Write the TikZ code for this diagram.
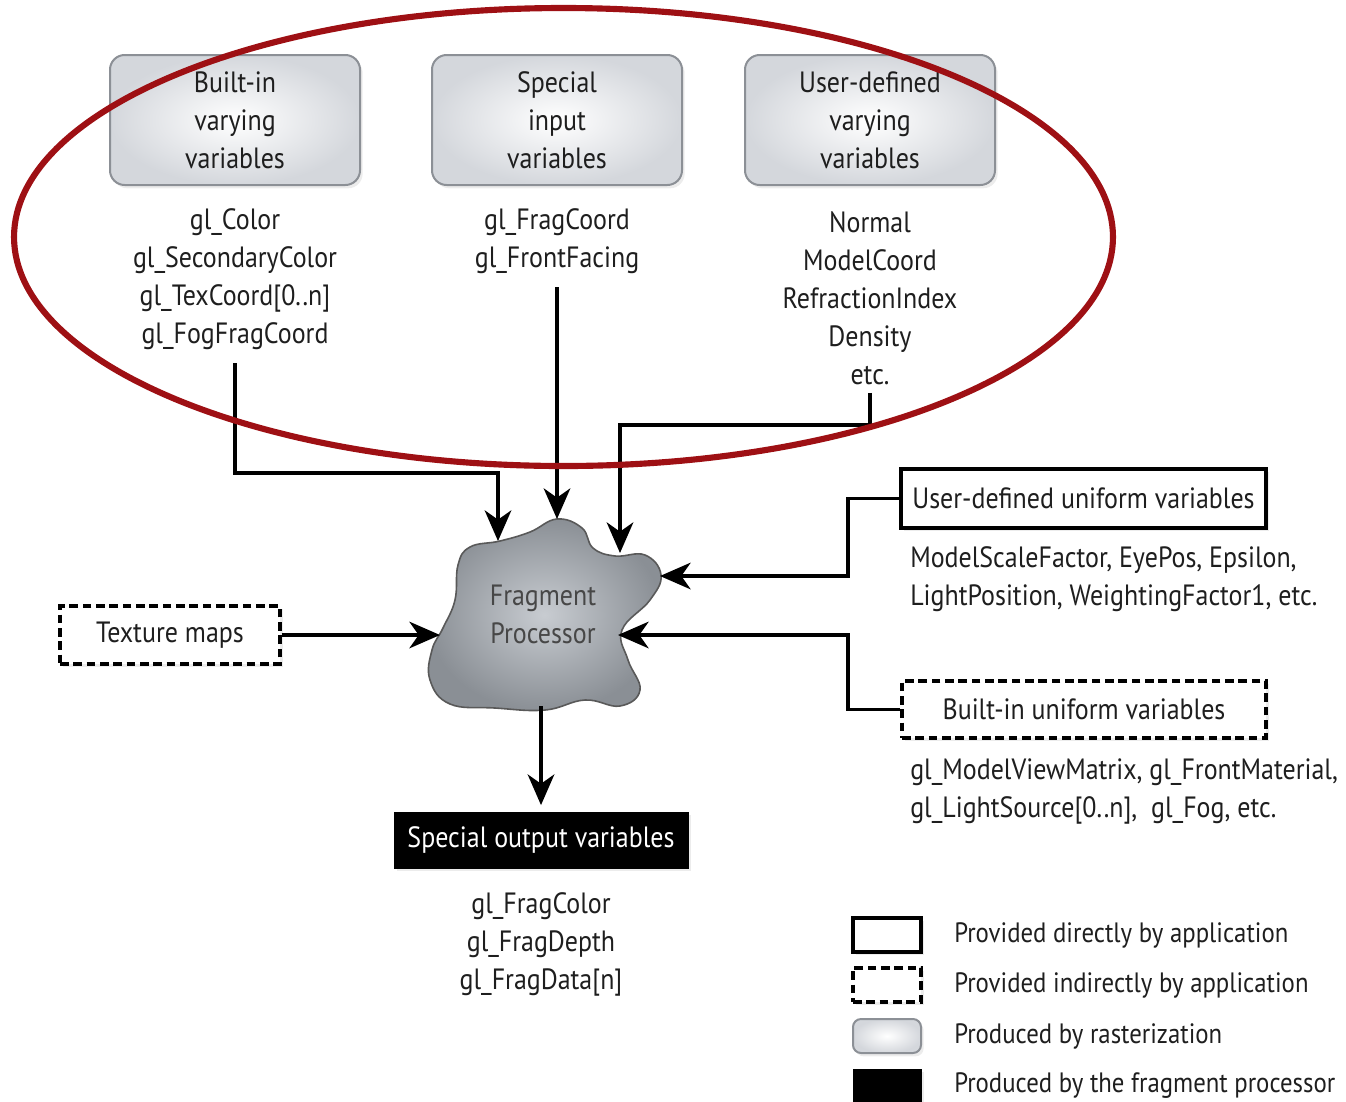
\documentclass[tikz,border=0pt]{standalone}
\usepackage{fontspec}
\setmainfont{PT Sans}[FakeStretch=0.885]
\usetikzlibrary{arrows.meta,shadows}
\definecolor{ringred}{HTML}{9E1014}
\definecolor{inkgray}{HTML}{1E1E1E}
\definecolor{boxedge}{HTML}{8C9096}
\definecolor{boxglow}{HTML}{D4D7DC}
\definecolor{cloudin}{HTML}{C8CCD1}
\definecolor{cloudout}{HTML}{8A8F95}

\begin{document}
\begin{tikzpicture}[x=0.75pt,y=-0.75pt,
  font=\fontsize{22}{28.5}\selectfont, text=inkgray,
  conn/.style={line width=2.3pt, draw=black},
  tip/.style={-{Stealth[length=23pt,width=20pt,inset=7pt]}},
  shadowed/.style={drop shadow={opacity=0.15,shadow xshift=2pt,shadow yshift=-2.5pt}},
  rasterbox/.style={draw=boxedge, line width=1.5pt, rounded corners=11pt,
    shading=radial, inner color=white, outer color=boxglow,
    minimum width=187.5pt, minimum height=97.5pt, align=center, shadowed},
  directbox/.style={draw=black, fill=white, line width=2.3pt, align=center, shadowed},
  indirectbox/.style={draw=black, fill=white, line width=2.3pt, dash pattern=on 6.5pt off 3.5pt, align=center, shadowed},
  outbox/.style={draw=black, fill=black, text=white, align=center, shadowed},
  listtext/.style={align=center, inner sep=0pt},
  sidetext/.style={align=left, anchor=west, inner sep=0pt},
  legendtext/.style={sidetext, font=\fontsize{21}{28.5}\selectfont},
  cloudshape/.style={draw=black!65, line width=1.2pt, shading=radial, inner color=cloudin, outer color=cloudout}
]
\useasboundingbox (0,0) rectangle (1346,1101);

% rasterized varying inputs
\node[rasterbox] (bv) at (235,120) {Built-in\\varying\\variables};
\node[rasterbox] (si) at (557,120) {Special\\input\\variables};
\node[rasterbox] (ud) at (870,120) {User-defined\\varying\\variables};

\node[listtext] (bvlist) at (235,279) {gl\_Color\\gl\_SecondaryColor\\gl\_TexCoord[0..n]\\gl\_FogFragCoord};
\node[listtext] (silist) at (557,241) {gl\_FragCoord\\gl\_FrontFacing};
\node[listtext] (udlist) at (870,298) {Normal\\ModelCoord\\RefractionIndex\\Density\\etc.};

% fragment processor blob
\path[cloudshape] plot[smooth cycle, tension=0.7] coordinates {
  (557,519) (582,528) (593,548) (615,556) (645,555) (661,575) (650,600)
  (622,630) (628,660) (640,690) (620,706) (585,700) (545,710) (495,708)
  (450,704) (430,680) (432,650) (443,628) (455,600) (458,565) (470,547)
  (500,541) (530,532)};
\node[listtext, text=black!72] (fp) at (543,614) {Fragment\\Processor};

\coordinate (c1) at (498,541);
\coordinate (c2) at (557,519);
\coordinate (c3) at (620,553);
\coordinate (c4) at (660,576);
\coordinate (c5) at (618,635);
\coordinate (c6) at (440,635);
\coordinate (c7) at (541,706);
\coordinate (j1) at (498,473);
\coordinate (j3) at (620,425);
\coordinate (j4) at (848,576);
\coordinate (j5) at (848,635);

% application inputs
\node[indirectbox, minimum width=165pt, minimum height=43.5pt] (tex) at (170,635) {Texture maps};
\node[directbox, minimum width=273.75pt, minimum height=44.25pt] (uu) at (1083.5,498.5) {User-defined uniform variables};
\node[sidetext] (uulist) at (910,579) {ModelScaleFactor, EyePos, Epsilon,\\LightPosition, WeightingFactor1, etc.};
\node[indirectbox, minimum width=273pt, minimum height=42.75pt] (bu) at (1084,709.5) {Built-in uniform variables};
\node[sidetext] (bulist) at (910,791) {gl\_ModelViewMatrix, gl\_FrontMaterial,\\gl\_LightSource[0..n],\ \ gl\_Fog, etc.};

% outputs
\node[outbox, minimum width=220.5pt, minimum height=42pt] (out) at (541,840) {Special output variables};
\node[listtext] (outlist) at (541,944) {gl\_FragColor\\gl\_FragDepth\\gl\_FragData[n]};

% connectors
\draw[conn, tip] ([yshift=-10pt]bvlist.south) |- (j1) -- (c1);
\draw[conn, tip] ([yshift=-10pt]silist.south) -- (c2);
\draw[conn, tip] ([yshift=-6pt]udlist.south) |- (j3) -- (c3);
\draw[conn, tip] (uu.west) -| (j4) -- (c4);
\draw[conn, tip] (bu.west) -| (j5) -- (c5);
\draw[conn, tip] (tex.east) -- (c6);
\draw[conn, tip, shorten >=5pt] (c7) -- (out.north);

% legend
\node[directbox, minimum width=51pt, minimum height=25.5pt] (lg1) at (887,935) {};
\node[indirectbox, minimum width=51pt, minimum height=25.5pt] (lg2) at (887,985) {};
\node[rasterbox, minimum width=51pt, minimum height=25.5pt, rounded corners=6pt] (lg3) at (887,1036) {};
\node[outbox, minimum width=51pt, minimum height=25.5pt] (lg4) at (887,1086) {};
\node[legendtext] (lt1) at (954,935) {Provided directly by application};
\node[legendtext] (lt2) at (954,985) {Provided indirectly by application};
\node[legendtext] (lt3) at (954,1036) {Produced by rasterization};
\node[legendtext] (lt4) at (954,1086) {Produced by the fragment processor};

% highlight ring over the varying inputs
\draw[ringred, line width=4.6pt] (563.5,237) ellipse [x radius=412.1pt, y radius=171.75pt];
\end{tikzpicture}
\end{document}
